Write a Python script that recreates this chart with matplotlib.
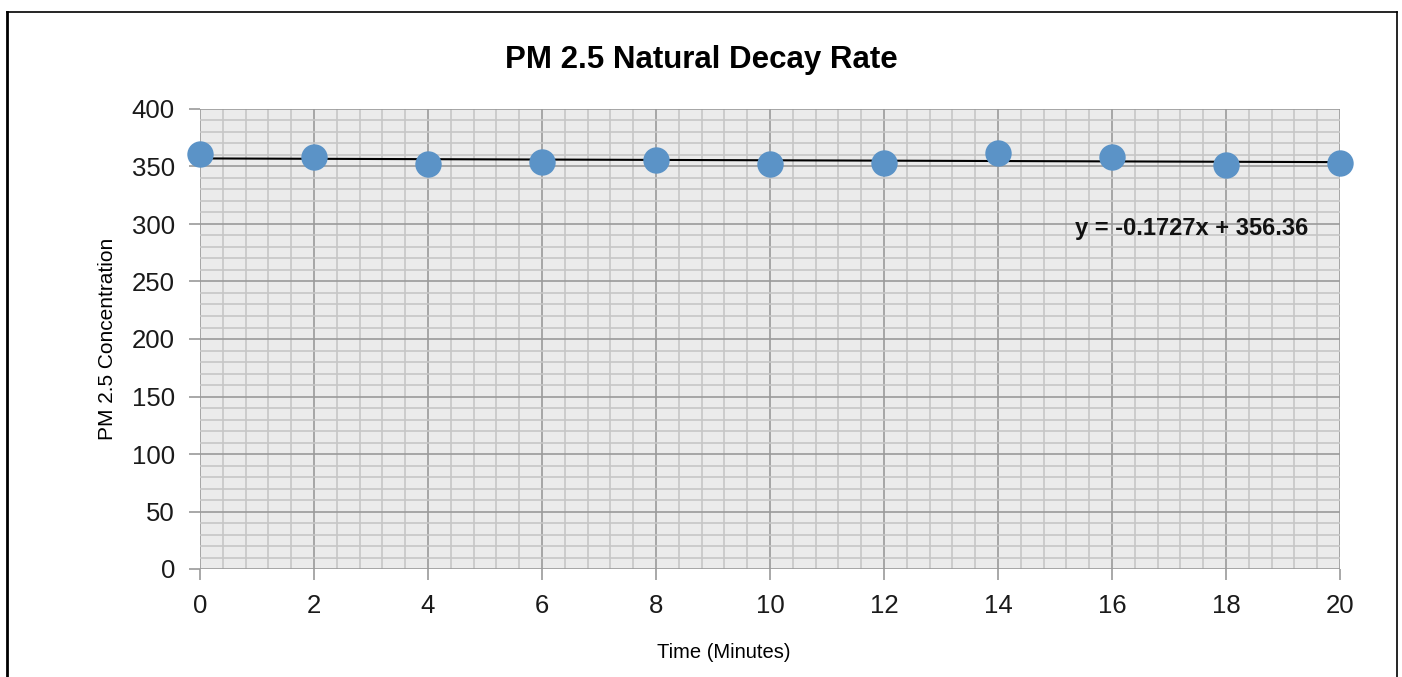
import numpy as np
import matplotlib
matplotlib.use("Agg")
import matplotlib.pyplot as plt
from matplotlib.ticker import MultipleLocator
from matplotlib.lines import Line2D

time_min = [0, 2, 4, 6, 8, 10, 12, 14, 16, 18, 20]
pm25 = [360.5, 358.5, 352.0, 354.0, 355.5, 352.0, 353.0, 361.5, 358.5, 351.0, 353.0]
title = "PM 2.5 Natural Decay Rate"
xlabel = "Time (Minutes)"
ylabel = "PM 2.5 Concentration"
eq_text = "y = -0.1727x + 356.36"

plt.rcParams['font.family'] = ['Liberation Sans', 'DejaVu Sans']

fig = plt.figure(figsize=(14.02, 6.77), dpi=100)
ax = fig.add_axes([200/1402, 1-569/677, 1140/1402, 460/677])
ax.set_facecolor('#ebebeb')

ax.set_xlim(0, 20)
ax.set_ylim(0, 400)
ax.xaxis.set_major_locator(MultipleLocator(2))
ax.xaxis.set_minor_locator(MultipleLocator(0.4))
ax.yaxis.set_major_locator(MultipleLocator(50))
ax.yaxis.set_minor_locator(MultipleLocator(10))
ax.grid(which='minor', color='#c6c6c6', linewidth=1.2)
ax.grid(which='major', color='#9a9a9a', linewidth=1.2)
ax.set_axisbelow(True)
for s in ax.spines.values():
    s.set_visible(False)
ax.tick_params(which='major', length=8, width=1.2, color='#9a9a9a', labelsize=18.5, pad=10, labelcolor='#1a1a1a')
ax.tick_params(which='minor', length=0)

# fit line
coef = np.polyfit(time_min, pm25, 1)
xs = np.array([time_min[0], time_min[-1]])
ax.plot(xs, np.polyval(coef, xs), color='black', linewidth=1.5, zorder=3)

ax.plot(time_min, pm25, 'o', markersize=19, color='#5b93c7', markeredgewidth=0, zorder=4, clip_on=False)

ax.text(17.39, 296.5, eq_text, fontsize=17, fontweight='bold', ha='center', va='center', color='#111111')

fig.text(701/1402, 1-60/677, title, fontsize=22.5, fontweight='bold', ha='center', va='center')
fig.text(724/1402, 1-653/677, xlabel, fontsize=14.5, ha='center', va='center')
fig.text(108/1402, 1-339/677, ylabel, fontsize=15, ha='center', va='center', rotation=90)

# outer border
fig.add_artist(Line2D([7/1402, 1397/1402], [1-12/677, 1-12/677], color='black', linewidth=1.2))
fig.add_artist(Line2D([7/1402, 7/1402], [0, 1-12/677], color='black', linewidth=2))
fig.add_artist(Line2D([1397/1402, 1397/1402], [0, 1-12/677], color='black', linewidth=1.2))

fig.savefig('out.png', dpi=100)
